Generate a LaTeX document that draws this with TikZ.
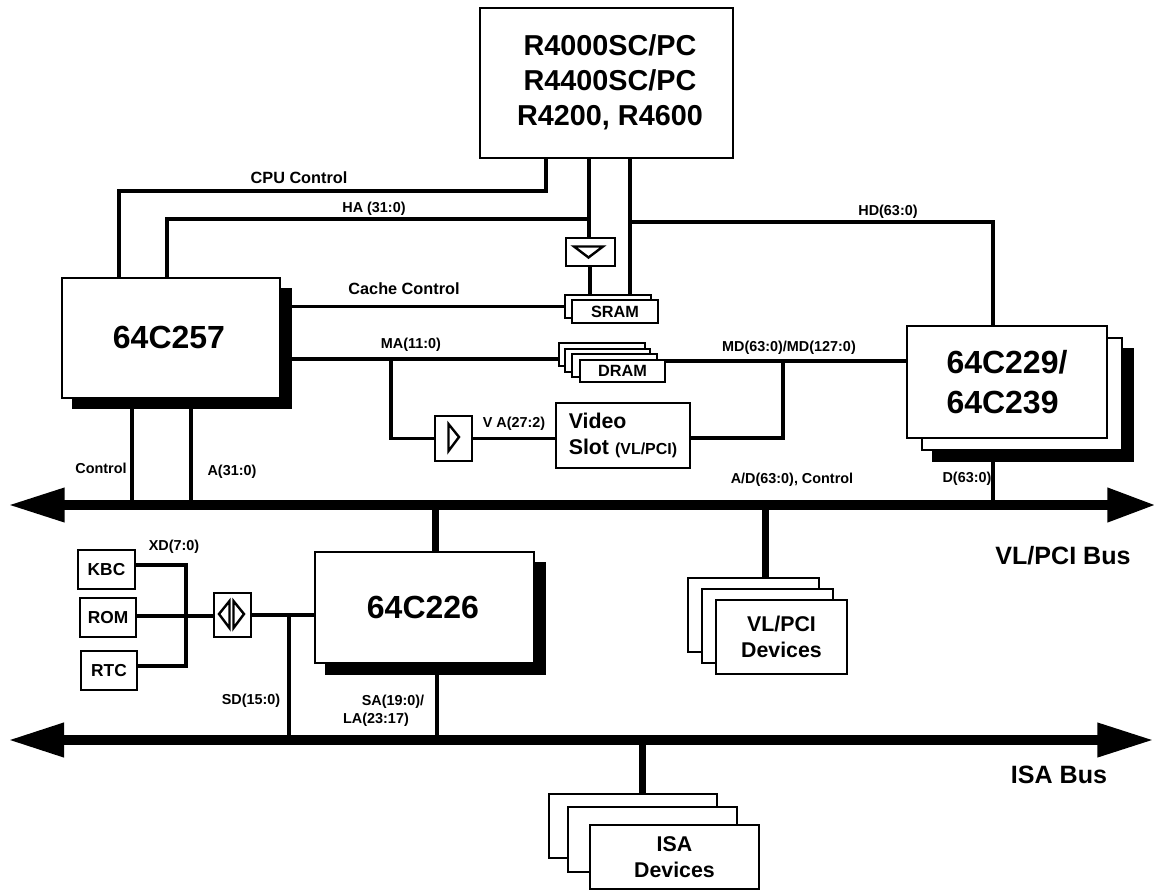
\documentclass[tikz,border=0pt]{standalone}
\usepackage{fontspec}
\setmainfont{Liberation Sans}
\usepackage{tikz}
\usetikzlibrary{arrows.meta, positioning, calc}

\begin{document}
\begin{tikzpicture}[
      x=0.75pt, y=-0.75pt,
      every node/.style={inner sep=0pt, outer sep=0pt, font=\bfseries},
      sized/.style 2 args={minimum width=#1*0.75pt, minimum height=#2*0.75pt},
      chip/.style={draw, fill=white, line width=1.5pt, align=center},
      shadow/.style={fill=black},
      small/.style={font=\fontsize{10.8}{13}\selectfont\bfseries},
      medium/.style={font=\fontsize{12.2}{15}\selectfont\bfseries},
      part/.style={font=\fontsize{24}{30}\selectfont\bfseries},
      dev/.style={font=\fontsize{16}{19.5}\selectfont\bfseries},
      rom/.style={font=\fontsize{13}{15}\selectfont\bfseries},
      buslabel/.style={font=\fontsize{18.8}{22}\selectfont\bfseries},
      wire/.style={line width=2.6pt},
      stem/.style={line width=5.25pt},
      gate/.style={line width=1.8pt, miter limit=10},
      bus/.style={line width=7.5pt}
    ]
      \useasboundingbox (0,0) rectangle (1154,890);

      \coordinate (vll) at (8,505);
      \coordinate (vlr) at (1156,505);
      \coordinate (isal) at (8,740);
      \coordinate (isar) at (1154,740);
      \draw[bus, {Triangle[length=42.5pt, width=24pt]}-{Triangle[length=36.5pt, width=24pt]}] (vll) -- (vlr);
      \draw[bus, {Triangle[length=42pt, width=24pt]}-{Triangle[length=42.5pt, width=24pt]}] (isal) -- (isar);

      \node[shadow, sized={220}{121}] (c257s) at (182,348.5) {};
      \node[chip, sized={218}{120}] (c257) at (171,338) {};
      \node[part] (c257t) at (169,337) {64C257};
      \node[shadow, sized={202}{114}] (c229s) at (1033,405) {};
      \node[chip, sized={200}{112}] (c229m) at (1022,394) {};
      \node[chip, part, sized={200}{112}, align=left] (c229) at (1007,382) {64C229/\\64C239};
      \node[shadow, sized={221}{113}] (c226s) at (435.5,618.5) {};
      \node[chip, sized={219}{111}] (c226) at (424.5,607.5) {};
      \node[part] (c226t) at (423,607) {64C226};
      \node[chip, sized={253}{150}] (cpu) at (606.5,83) {};
      \node[align=center, font=\fontsize{21.6}{26.25}\selectfont\bfseries] (cput) at (610,82) {R4000SC/PC\\R4400SC/PC\\R4200, R4600};

      \node[chip, sized={49}{28}] (bufh) at (590.5,252) {};
      \node[chip, sized={37}{45}] (bufv) at (453.5,438.5) {};
      \node[chip, sized={37}{44}] (bufx) at (232.5,615) {};

      \node[chip, sized={86}{23}] (srama) at (608,306.5) {};
      \node[chip, medium, sized={86}{23}] (sram) at (615,311.5) {SRAM};
      \node[chip, sized={86}{23}] (drama) at (602,354.5) {};
      \node[chip, sized={85}{23}] (dramb) at (607.5,360.5) {};
      \node[chip, sized={85}{23}] (dramc) at (614.5,365.5) {};
      \node[chip, medium, sized={85}{22}] (dram) at (622.5,371) {DRAM};
      \node[chip, dev, sized={134}{65}, align=left] (video) at (623,435.5) {Video\\Slot {\fontsize{12}{15}\selectfont (VL/PCI)}};

      \node[chip, rom, sized={57}{39}] (kbc) at (106.5,569.5) {KBC};
      \node[chip, rom, sized={56}{39}] (rom) at (108,617.5) {ROM};
      \node[chip, rom, sized={56}{39}] (rtc) at (109,670.5) {RTC};

      \node[chip, sized={131}{74}] (vla) at (753.5,615) {};
      \node[chip, sized={131}{74}] (vlb) at (767.5,626) {};
      \node[chip, dev, sized={131}{74}] (vlc) at (781.5,637) {VL/PCI\\Devices};
      \node[chip, sized={168}{64}] (isaa) at (633,826) {};
      \node[chip, sized={169}{65}] (isab) at (652.5,839.5) {};
      \node[chip, dev, sized={169}{64}] (isac) at (674.5,857) {ISA\\Devices};

      \coordinate (cctl) at (119,191);
      \coordinate (cctr) at (546,191);
      \coordinate (hal) at (167,219);
      \coordinate (har) at (589,219);
      \coordinate (hdl) at (630,222);
      \coordinate (hdr) at (993,222);
      \coordinate (mabr) at (391,359);
      \coordinate (mdbr) at (783,361);
      \coordinate (xdt) at (186,565);
      \coordinate (xdm) at (186,616);
      \coordinate (xdb) at (186,666);
      \coordinate (sdt) at (289,615);

      \draw[wire] (c257.north -| cctl) -- (cctl) -- (cctr) -- (cpu.south -| cctr);
      \draw[wire] (c257.north -| hal) -- (hal) -- (har);
      \draw[wire] (cpu.south -| har) -- (bufh.north -| har);
      \draw[wire] (bufh.south -| 590,0) -- (srama.north -| 590,0);
      \draw[wire] (cpu.south -| hdl) -- (srama.north -| hdl);
      \draw[wire] (hdl) -- (hdr) -- (c229.north -| hdr);
      \draw[wire] (c257s.east |- srama.west) -- (srama.west);
      \draw[wire] (c257s.east |- mabr) -- (drama.west |- mabr);
      \draw[wire] (dram.east |- mdbr) -- (c229.west |- mdbr);
      \draw[wire] (mabr) |- (bufv.west);
      \draw[wire] (bufv.east) -- (video.west |- bufv.east);
      \draw[wire] (mdbr) |- (video.east |- 0,438);
      \draw[wire] (c257s.south -| 132,0) -- (vll -| 132,0);
      \draw[wire] (c257s.south -| 191,0) -- (vll -| 191,0);
      \draw[wire] (c229s.south -| hdr) -- (vll -| hdr);
      \draw[stem] (vll -| 435,0) -- (c226.north -| 435,0);
      \draw[stem] (vll -| 765,0) -- (vla.north -| 765,0);
      \draw[stem] (isal -| 642,0) -- (isaa.north -| 642,0);
      \draw[wire] (c226s.south -| 437,0) -- (isal -| 437,0);
      \draw[wire] (kbc.east |- xdt) -- (xdt) -- (xdb) -- (rtc.east |- xdb);
      \draw[wire] (rom.east |- xdm) -- (bufx.west |- xdm);
      \draw[wire] (bufx.east |- sdt) -- (c226.west |- sdt);
      \draw[wire] (sdt) -- (isal -| sdt);

      \draw[gate] (574,246.5) -- (603,246.5) -- (588.5,257.5) -- cycle;
      \draw[gate] (448.5,424) -- (448.5,451) -- (459,437) -- cycle;
      \draw[gate] (219,614) -- (229.5,601) -- (229.5,628) -- cycle;
      \draw[gate] (233.5,601) -- (233.5,628) -- (244,614) -- cycle;

      \node[medium] (lcpuctl) at (299,178) {CPU Control};
      \node[small] (lha) at (374,209) {HA (31:0)};
      \node[medium] (lcache) at (404,289) {Cache Control};
      \node[small] (lma) at (411,345) {MA(11:0)};
      \node[small] (lhd) at (888,212) {HD(63:0)};
      \node[small] (lmd) at (789,348) {MD(63:0)/MD(127:0)};
      \node[small] (lva) at (514,424) {V A(27:2)};
      \node[small] (lctl) at (101,468) {Control};
      \node[small] (la) at (232,472) {A(31:0)};
      \node[small] (lad) at (792,480) {A/D(63:0), Control};
      \node[small] (ld) at (967,479) {D(63:0)};
      \node[small] (lxd) at (174,547) {XD(7:0)};
      \node[small] (lsd) at (251,701) {SD(15:0)};
      \node[small] (lsa) at (393,702) {SA(19:0)/};
      \node[small] (lla) at (376,720) {LA(23:17)};
      \node[buslabel] (lvl) at (1063,556) {VL/PCI Bus};
      \node[buslabel] (lisa) at (1059,775) {ISA Bus};
    \end{tikzpicture}
\end{document}
